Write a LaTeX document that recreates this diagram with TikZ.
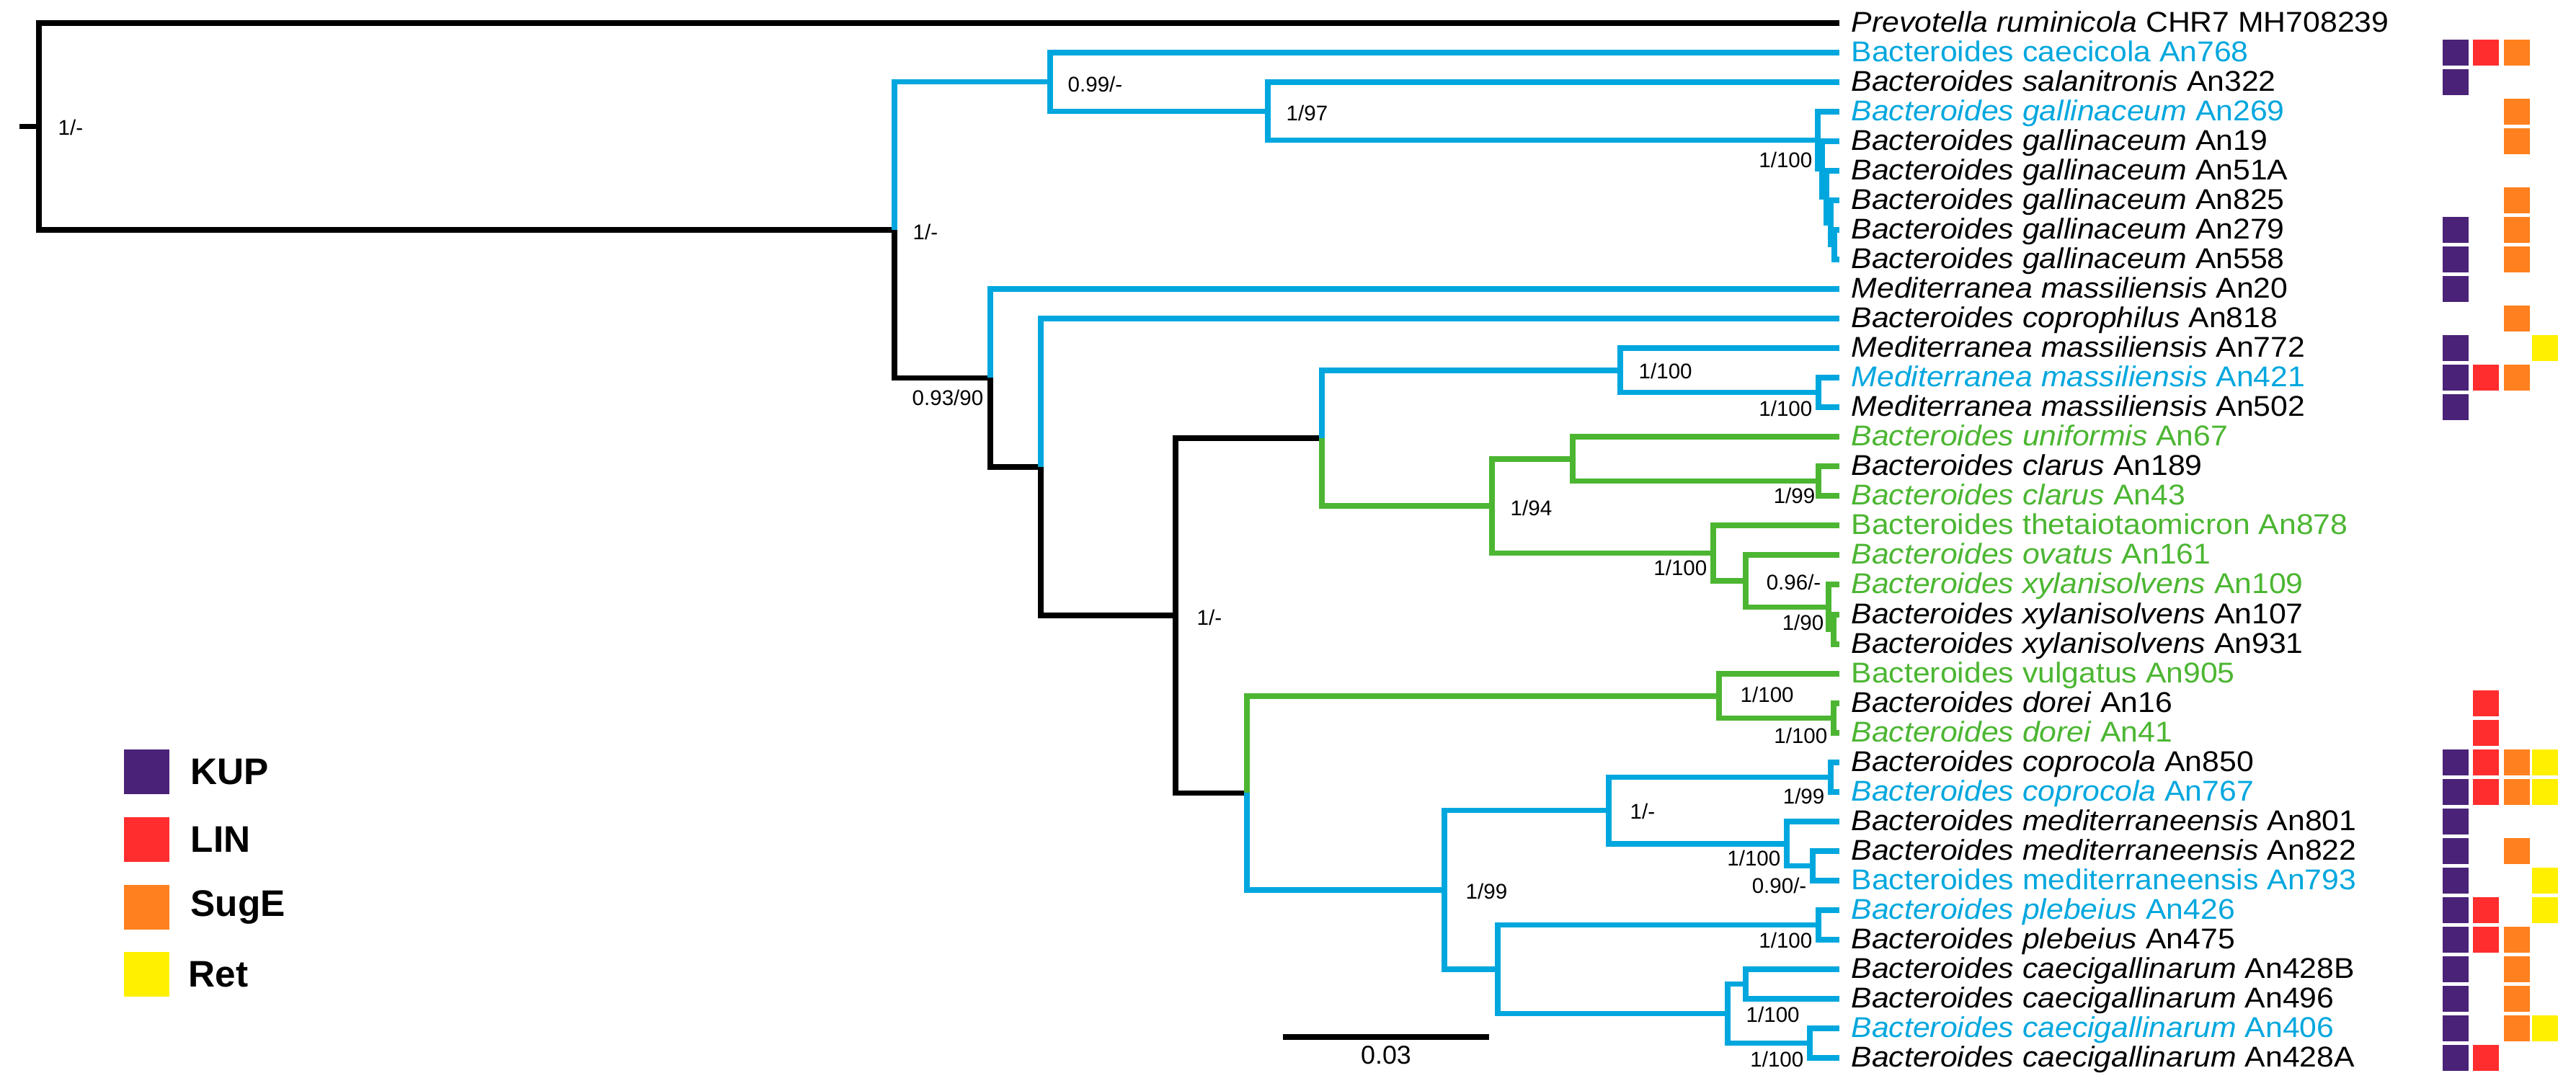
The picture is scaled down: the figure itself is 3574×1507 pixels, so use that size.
\documentclass[tikz,border=0pt]{standalone}
\usepackage{fontspec}
\setmainfont{Liberation Sans}
\definecolor{tblue}{RGB}{0,167,222}
\definecolor{tgreen}{RGB}{76,182,50}
\definecolor{kup}{RGB}{74,35,120}
\definecolor{lin}{RGB}{255,45,45}
\definecolor{suge}{RGB}{255,128,30}
\definecolor{ret}{RGB}{255,240,0}
\newcommand\tipfont{\fontsize{12.15pt}{14pt}\selectfont}
\newcommand\bsfont{\fontsize{8.4pt}{10pt}\selectfont}
\newcommand\legfont{\fontsize{14.6pt}{17pt}\selectfont\bfseries}
\newcommand\sbfont{\fontsize{10.2pt}{12pt}\selectfont}
\newcommand\gb[3]{\fill[#1] (#2,#3-18) rectangle ++(36,36);}
\begin{document}
\begin{tikzpicture}[x=0.01cm,y=-0.01cm,
  br/.style={line width=0.075cm, line join=miter},
  bk/.style={br, black},
  bl/.style={br, tblue},
  gr/.style={br, tgreen},
  tip/.style={anchor=base west, inner sep=0pt, font=\tipfont, yscale=0.93},
  bsr/.style={anchor=west, inner sep=0pt, font=\bsfont},
  bsl/.style={anchor=east, inner sep=0pt, font=\bsfont},
  legtxt/.style={anchor=west, inner sep=0pt, font=\legfont}]
\useasboundingbox[fill=white] (0,0) rectangle (3574,1507);

% ---------- tips ----------
\foreach \i/\y in {0/32,1/73,2/114,3/155,4/196,5/237,6/278,7/319,8/360,9/401,
  10/442,11/483,12/524,13/565,14/606,15/647,16/688,17/729,18/770,19/811,
  20/853,21/894,22/935,23/976,24/1017,25/1058,26/1099,27/1140,28/1181,29/1222,
  30/1263,31/1304,32/1345,33/1386,34/1427,35/1468}
  {\coordinate (T\i) at (2552,\y);}

% ---------- internal nodes ----------
\coordinate (R0) at (27,175.5);
\coordinate (R) at (54,175.5);
\coordinate (N1) at (1241,319.1);
\coordinate (N2) at (1457,113.7);
\coordinate (N3) at (1759,154.4);
\coordinate (G1) at (2522,194.7);
\coordinate (G2) at (2528,234.4);
\coordinate (G3) at (2534,272.9);
\coordinate (G4) at (2540,308.8);
\coordinate (G5) at (2545,339.5);
\coordinate (N6) at (1374,524.5);
\coordinate (N7) at (1444,648);
\coordinate (N8) at (1631,854.1);
\coordinate (N9) at (1834,608);
\coordinate (N10) at (2248,513.8);
\coordinate (N11) at (2523,544.5);
\coordinate (N12) at (2070,702.2);
\coordinate (N13) at (2182,636.8);
\coordinate (N14) at (2523,667.5);
\coordinate (N15) at (2377,767.6);
\coordinate (N16) at (2422,806.1);
\coordinate (N17) at (2537,842.3);
\coordinate (N18) at (2544,873.5);
\coordinate (N19) at (1730,1100.3);
\coordinate (N20) at (2385,965.8);
\coordinate (N21) at (2544,996.5);
\coordinate (N22) at (2004,1234.8);
\coordinate (N23) at (2232,1124.6);
\coordinate (N24) at (2540,1078.5);
\coordinate (N25) at (2479,1170.8);
\coordinate (N26) at (2515,1201.5);
\coordinate (N27) at (2078,1345);
\coordinate (N28) at (2523,1283.5);
\coordinate (N29) at (2397,1406.5);
\coordinate (N30) at (2422,1365.5);
\coordinate (N31) at (2511,1447.5);

% ---------- branches ----------
\draw[bk] (R0) -- (R);
\draw[bk] (R) |- (T0);
\draw[bk] (R) |- (N1);
\draw[bl] (N1) |- (N2);
\draw[bl] (N2) |- (T1);
\draw[bl] (N2) |- (N3);
\draw[bl] (N3) |- (T2);
\draw[bl] (N3) |- (G1);
\draw[bl] (G1) |- (T3);
\draw[bl] (G1) |- (G2);
\draw[bl] (G2) |- (T4);
\draw[bl] (G2) |- (G3);
\draw[bl] (G3) |- (T5);
\draw[bl] (G3) |- (G4);
\draw[bl] (G4) |- (T6);
\draw[bl] (G4) |- (G5);
\draw[bl] (G5) |- (T7);
\draw[bl] (G5) |- (T8);
\draw[bk] (N1) |- (N6);
\draw[bl] (N6) |- (T9);
\draw[bk] (N6) |- (N7);
\draw[bl] (N7) |- (T10);
\draw[bk] (N7) |- (N8);
\draw[bk] (N8) |- (N9);
\draw[bl] (N9) |- (N10);
\draw[bl] (N10) |- (T11);
\draw[bl] (N10) |- (N11);
\draw[bl] (N11) |- (T12);
\draw[bl] (N11) |- (T13);
\draw[gr] (N9) |- (N12);
\draw[gr] (N12) |- (N13);
\draw[gr] (N13) |- (T14);
\draw[gr] (N13) |- (N14);
\draw[gr] (N14) |- (T15);
\draw[gr] (N14) |- (T16);
\draw[gr] (N12) |- (N15);
\draw[gr] (N15) |- (T17);
\draw[gr] (N15) |- (N16);
\draw[gr] (N16) |- (T18);
\draw[gr] (N16) |- (N17);
\draw[gr] (N17) |- (T19);
\draw[gr] (N17) |- (N18);
\draw[gr] (N18) |- (T20);
\draw[gr] (N18) |- (T21);
\draw[bk] (N8) |- (N19);
\draw[gr] (N19) |- (N20);
\draw[gr] (N20) |- (T22);
\draw[gr] (N20) |- (N21);
\draw[gr] (N21) |- (T23);
\draw[gr] (N21) |- (T24);
\draw[bl] (N19) |- (N22);
\draw[bl] (N22) |- (N23);
\draw[bl] (N23) |- (N24);
\draw[bl] (N24) |- (T25);
\draw[bl] (N24) |- (T26);
\draw[bl] (N23) |- (N25);
\draw[bl] (N25) |- (T27);
\draw[bl] (N25) |- (N26);
\draw[bl] (N26) |- (T28);
\draw[bl] (N26) |- (T29);
\draw[bl] (N22) |- (N27);
\draw[bl] (N27) |- (N28);
\draw[bl] (N28) |- (T30);
\draw[bl] (N28) |- (T31);
\draw[bl] (N27) |- (N29);
\draw[bl] (N29) |- (N30);
\draw[bl] (N30) |- (T32);
\draw[bl] (N30) |- (T33);
\draw[bl] (N29) |- (N31);
\draw[bl] (N31) |- (T34);
\draw[bl] (N31) |- (T35);

% ---------- tip labels ----------
\node[tip] (t0) at (2568,45) {\textit{Prevotella ruminicola} CHR7 MH708239};
\node[tip, text=tblue] (t1) at (2568,86) {Bacteroides caecicola An768};
\node[tip] (t2) at (2568,127) {\textit{Bacteroides salanitronis} An322};
\node[tip, text=tblue] (t3) at (2568,168) {\textit{Bacteroides gallinaceum} An269};
\node[tip] (t4) at (2568,209) {\textit{Bacteroides gallinaceum} An19};
\node[tip] (t5) at (2568,250) {\textit{Bacteroides gallinaceum} An51A};
\node[tip] (t6) at (2568,291) {\textit{Bacteroides gallinaceum} An825};
\node[tip] (t7) at (2568,332) {\textit{Bacteroides gallinaceum} An279};
\node[tip] (t8) at (2568,373) {\textit{Bacteroides gallinaceum} An558};
\node[tip] (t9) at (2568,414) {\textit{Mediterranea massiliensis} An20};
\node[tip] (t10) at (2568,455) {\textit{Bacteroides coprophilus} An818};
\node[tip] (t11) at (2568,496) {\textit{Mediterranea massiliensis} An772};
\node[tip, text=tblue] (t12) at (2568,537) {\textit{Mediterranea massiliensis} An421};
\node[tip] (t13) at (2568,578) {\textit{Mediterranea massiliensis} An502};
\node[tip, text=tgreen] (t14) at (2568,619) {\textit{Bacteroides uniformis} An67};
\node[tip] (t15) at (2568,660) {\textit{Bacteroides clarus} An189};
\node[tip, text=tgreen] (t16) at (2568,701) {\textit{Bacteroides clarus} An43};
\node[tip, text=tgreen] (t17) at (2568,742) {Bacteroides thetaiotaomicron An878};
\node[tip, text=tgreen] (t18) at (2568,783) {\textit{Bacteroides ovatus} An161};
\node[tip, text=tgreen] (t19) at (2568,824) {\textit{Bacteroides xylanisolvens} An109};
\node[tip] (t20) at (2568,866) {\textit{Bacteroides xylanisolvens} An107};
\node[tip] (t21) at (2568,907) {\textit{Bacteroides xylanisolvens} An931};
\node[tip, text=tgreen] (t22) at (2568,948) {Bacteroides vulgatus An905};
\node[tip] (t23) at (2568,989) {\textit{Bacteroides dorei} An16};
\node[tip, text=tgreen] (t24) at (2568,1030) {\textit{Bacteroides dorei} An41};
\node[tip] (t25) at (2568,1071) {\textit{Bacteroides coprocola} An850};
\node[tip, text=tblue] (t26) at (2568,1112) {\textit{Bacteroides coprocola} An767};
\node[tip] (t27) at (2568,1153) {\textit{Bacteroides mediterraneensis} An801};
\node[tip] (t28) at (2568,1194) {\textit{Bacteroides mediterraneensis} An822};
\node[tip, text=tblue] (t29) at (2568,1235) {Bacteroides mediterraneensis An793};
\node[tip, text=tblue] (t30) at (2568,1276) {\textit{Bacteroides plebeius} An426};
\node[tip] (t31) at (2568,1317) {\textit{Bacteroides plebeius} An475};
\node[tip] (t32) at (2568,1358) {\textit{Bacteroides caecigallinarum} An428B};
\node[tip] (t33) at (2568,1399) {\textit{Bacteroides caecigallinarum} An496};
\node[tip, text=tblue] (t34) at (2568,1440) {\textit{Bacteroides caecigallinarum} An406};
\node[tip] (t35) at (2568,1481) {\textit{Bacteroides caecigallinarum} An428A};

% ---------- support values ----------
\node[bsr] (sR) at (80,177) {1/-};
\node[bsr] (s1) at (1266,322) {1/-};
\node[bsr] (s2) at (1481,117) {0.99/-};
\node[bsr] (s3) at (1784,157) {1/97};
\node[bsl] (sG1) at (2515,222) {1/100};
\node[bsl] (s6) at (1365,552) {0.93/90};
\node[bsr] (s8) at (1660,857) {1/-};
\node[bsr] (s10) at (2273,515) {1/100};
\node[bsl] (s11) at (2515,567) {1/100};
\node[bsr] (s12) at (2095,705) {1/94};
\node[bsl] (s14) at (2519,688) {1/99};
\node[bsl] (s15) at (2369,788) {1/100};
\node[bsl] (s17) at (2527,808) {0.96/-};
\node[bsl] (s18) at (2531,864) {1/90};
\node[bsr] (s20) at (2414,964) {1/100};
\node[bsl] (s21) at (2536,1021) {1/100};
\node[bsr] (s22) at (2033,1237) {1/99};
\node[bsr] (s23) at (2261,1126) {1/-};
\node[bsl] (s24) at (2532,1105) {1/99};
\node[bsl] (s25) at (2471,1191) {1/100};
\node[bsl] (s26) at (2507,1229) {0.90/-};
\node[bsl] (s28) at (2515,1305) {1/100};
\node[bsr] (s29) at (2422,1408) {1/100};
\node[bsl] (s31) at (2503,1470) {1/100};

% ---------- gene boxes ----------
\def\cK{3389}\def\cL{3431}\def\cS{3474}\def\cR{3513}
\gb{kup}{\cK}{73}\gb{lin}{\cL}{73}\gb{suge}{\cS}{73}
\gb{kup}{\cK}{114}
\gb{suge}{\cS}{155}
\gb{suge}{\cS}{196}
\gb{suge}{\cS}{278}
\gb{kup}{\cK}{319}\gb{suge}{\cS}{319}
\gb{kup}{\cK}{360}\gb{suge}{\cS}{360}
\gb{kup}{\cK}{401}
\gb{suge}{\cS}{442}
\gb{kup}{\cK}{483}\gb{ret}{\cR}{483}
\gb{kup}{\cK}{524}\gb{lin}{\cL}{524}\gb{suge}{\cS}{524}
\gb{kup}{\cK}{565}
\gb{lin}{\cL}{976}
\gb{lin}{\cL}{1017}
\gb{kup}{\cK}{1058}\gb{lin}{\cL}{1058}\gb{suge}{\cS}{1058}\gb{ret}{\cR}{1058}
\gb{kup}{\cK}{1099}\gb{lin}{\cL}{1099}\gb{suge}{\cS}{1099}\gb{ret}{\cR}{1099}
\gb{kup}{\cK}{1140}
\gb{kup}{\cK}{1181}\gb{suge}{\cS}{1181}
\gb{kup}{\cK}{1222}\gb{ret}{\cR}{1222}
\gb{kup}{\cK}{1263}\gb{lin}{\cL}{1263}\gb{ret}{\cR}{1263}
\gb{kup}{\cK}{1304}\gb{lin}{\cL}{1304}\gb{suge}{\cS}{1304}
\gb{kup}{\cK}{1345}\gb{suge}{\cS}{1345}
\gb{kup}{\cK}{1386}\gb{suge}{\cS}{1386}
\gb{kup}{\cK}{1427}\gb{suge}{\cS}{1427}\gb{ret}{\cR}{1427}
\gb{kup}{\cK}{1468}\gb{lin}{\cL}{1468}

% ---------- legend ----------
\fill[kup] (172,1040) rectangle (235,1102);
\fill[lin] (172,1134) rectangle (235,1196);
\fill[suge] (172,1228) rectangle (235,1290);
\fill[ret] (172,1321) rectangle (235,1383);
\node[legtxt] (lk) at (264,1071) {KUP};
\node[legtxt] (ll) at (264,1165) {LIN};
\node[legtxt] (ls) at (264,1259) {SugE};
\node[legtxt] (lr) at (261,1352) {Ret};

% ---------- scale bar ----------
\coordinate (sb1) at (1780,1439);
\coordinate (sb2) at (2066,1439);
\draw[line width=0.085cm] (sb1) -- (sb2);
\node[inner sep=0pt, font=\sbfont] (sbl) at (1923,1464) {0.03};
\end{tikzpicture}
\end{document}
